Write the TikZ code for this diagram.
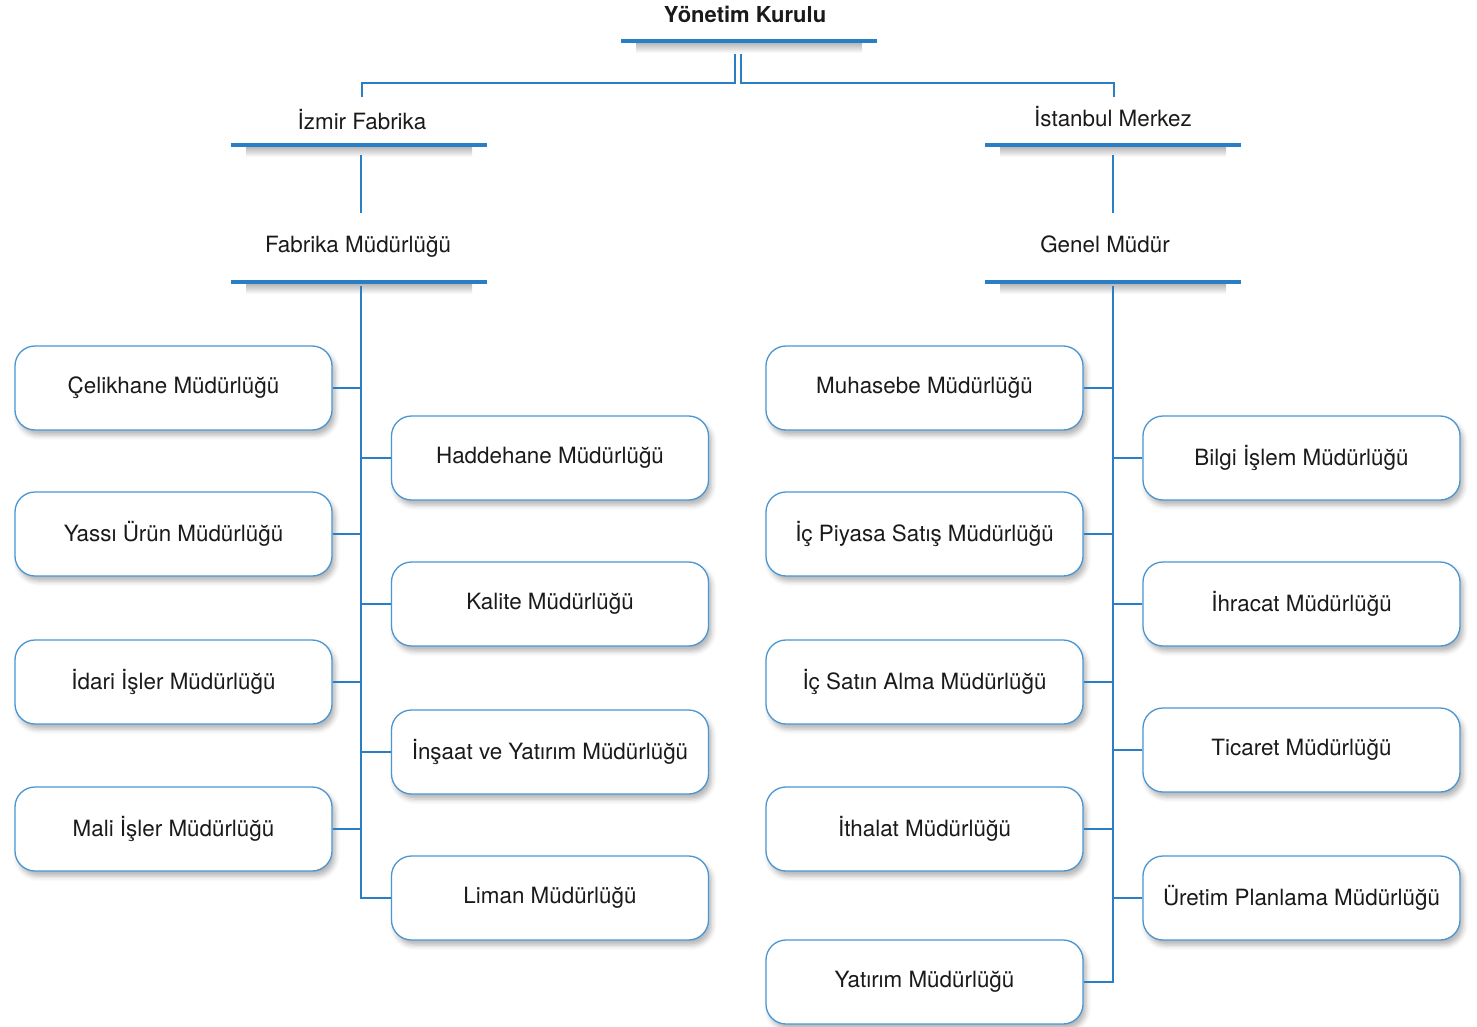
\documentclass[tikz,border=0pt]{standalone}
\usepackage{fontspec}
\setmainfont{TeX Gyre Heros}
\usetikzlibrary{shadows.blur}
\definecolor{lineblue}{HTML}{2A7FC4}
\definecolor{boxblue}{HTML}{4A96D2}
\definecolor{txt}{HTML}{1A1A1A}
\begin{document}
\begin{tikzpicture}[x=1pt,y=-1pt,
  font=\fontsize{22.4}{27}\selectfont,
  unit/.style={draw=boxblue, line width=1.3pt, rounded corners=20pt, fill=white,
    minimum width=317pt, minimum height=84pt, text=txt, inner sep=0pt,
    blur shadow={shadow xshift=3pt, shadow yshift=-5pt, shadow blur radius=5pt, shadow opacity=30}},
  conn/.style={draw=lineblue, line width=2pt},
  bar/.style={draw=lineblue, line width=4.5pt},
  head/.style={text=txt, inner sep=0pt},
  barshade/.style={top color=black!28, bottom color=white, draw=none}
]
\useasboundingbox (0,0) rectangle (1477,1027);

% headers
\node[head, font=\fontsize{22}{26}\selectfont\bfseries] (yk) at (745,14) {Yönetim Kurulu};
\node[head] (izm) at (362,120) {İzmir Fabrika};
\node[head] (fab) at (358,247) {Fabrika Müdürlüğü};
\node[head] (ist) at (1113,117) {İstanbul Merkez};
\node[head] (gen) at (1105,244) {Genel Müdür};

% bars with soft shadows
\shade[barshade] (636,43) rectangle (862,53);
\draw[bar] (621,41) -- (877,41);
\foreach \bx/\by in {231/145, 231/282, 985/145, 985/282}{
  \shade[barshade] (\bx+15,\by+2) rectangle (\bx+241,\by+12);
  \draw[bar] (\bx,\by) -- (\bx+256,\by);
}

% named coordinates for connectors
\coordinate (ykL) at (735,54);
\coordinate (ykR) at (741,54);
\coordinate (izmT) at (362,97);
\coordinate (istT) at (1114,97);
\coordinate (izmB) at (361,155);
\coordinate (fabT) at (361,213);
\coordinate (istB) at (1113,155);
\coordinate (genT) at (1113,213);
\coordinate (fabB) at (361,286);
\coordinate (genB) at (1113,286);

% left side boxes
\node[unit] (celik) at (173.5,388) {Çelikhane Müdürlüğü};
\node[unit] (yassi) at (173.5,534) {Yassı Ürün Müdürlüğü};
\node[unit] (idari) at (173.5,682) {İdari İşler Müdürlüğü};
\node[unit] (mali)  at (173.5,829) {Mali İşler Müdürlüğü};
\node[unit] (hadde) at (550,458) {Haddehane Müdürlüğü};
\node[unit] (kalite) at (550,604) {Kalite Müdürlüğü};
\node[unit] (insaat) at (550,752) {İnşaat ve Yatırım Müdürlüğü};
\node[unit] (liman) at (550,898) {Liman Müdürlüğü};

% right side boxes
\node[unit] (muhas) at (924.5,388) {Muhasebe Müdürlüğü};
\node[unit] (icpiy) at (924.5,534) {İç Piyasa Satış Müdürlüğü};
\node[unit] (icsat) at (924.5,682) {İç Satın Alma Müdürlüğü};
\node[unit] (ithal) at (924.5,829) {İthalat Müdürlüğü};
\node[unit] (yatir) at (924.5,982) {Yatırım Müdürlüğü};
\node[unit] (bilgi) at (1301.5,458) {Bilgi İşlem Müdürlüğü};
\node[unit] (ihrac) at (1301.5,604) {İhracat Müdürlüğü};
\node[unit] (tica)  at (1301.5,750) {Ticaret Müdürlüğü};
\node[unit] (uret)  at (1301.5,898) {Üretim Planlama Müdürlüğü};

% top connectors
\draw[conn] (ykL) -- (ykL |- 0,83) -| (izmT);
\draw[conn] (ykR) -- (ykR |- 0,83) -| (istT);
\draw[conn] (izmB) -- (fabT);
\draw[conn] (istB) -- (genT);

% spines
\draw[conn] (fabB) |- (liman.west);
\draw[conn] (genB) |- (yatir.east);

% branches left
\foreach \n in {celik,yassi,idari,mali}{
  \draw[conn] (\n.east) -- (\n.east -| fabB);
}
\foreach \n in {hadde,kalite,insaat}{
  \draw[conn] (\n.west) -- (\n.west -| fabB);
}
% branches right
\foreach \n in {muhas,icpiy,icsat,ithal}{
  \draw[conn] (\n.east) -- (\n.east -| genB);
}
\foreach \n in {bilgi,ihrac,tica,uret}{
  \draw[conn] (\n.west) -- (\n.west -| genB);
}
\end{tikzpicture}
\end{document}
